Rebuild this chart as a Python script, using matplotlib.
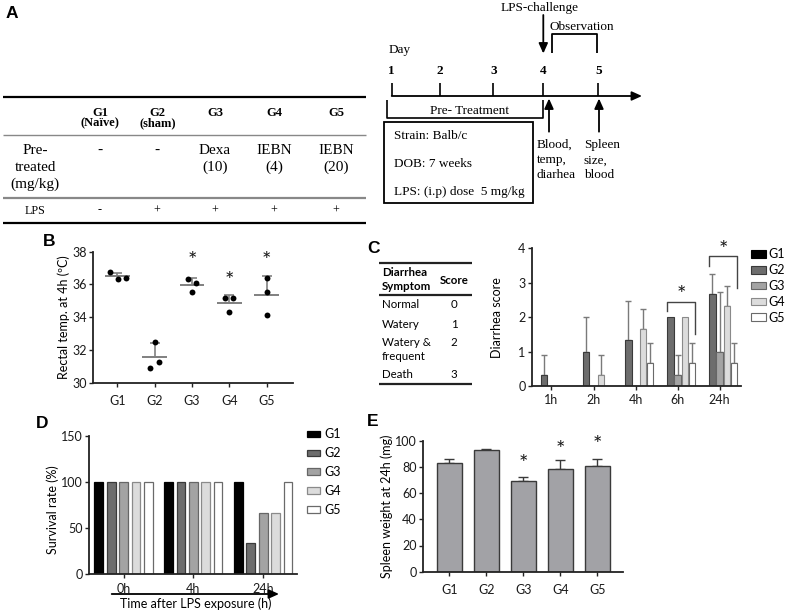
import numpy as np
import matplotlib
matplotlib.use('Agg')
import matplotlib.pyplot as plt
import matplotlib.transforms as mtransforms
from matplotlib.lines import Line2D
from matplotlib.patches import FancyArrowPatch, Rectangle, ArrowStyle

# ---------------- data ----------------
groups = ['G1', 'G2', 'G3', 'G4', 'G5']

# Panel A - table
group_notes = ['(Naïve)', '(sham)', '', '', '']
pretreat_agent = ['-', '-', 'Dexa', 'IEBN', 'IEBN']
pretreat_dose = ['', '', '(10)', '(4)', '(20)']
lps_given = ['-', '+', '+', '+', '+']

# Panel A - timeline
days = ['1', '2', '3', '4', '5']
study_info = ['Strain: Balb/c', 'DOB: 7 weeks', 'LPS: (i.p) dose  5 mg/kg']
sampling_day4 = ['Blood,', 'temp,', 'diarhea']
sampling_day5 = ['Spleen', 'size,', 'blood']

# Panel B - rectal temperature (individual mice)
temp_g1 = [36.73, 36.33, 36.41]
temp_g2 = [32.50, 31.28, 30.87]
temp_g3 = [36.33, 36.10, 35.51]
temp_g4 = [35.15, 35.15, 34.29]
temp_g5 = [36.41, 35.51, 34.13]
temp_jitter = [[-0.20, 0.03, 0.23], [0.0, 0.11, -0.11], [-0.11, 0.10, 0.0],
               [-0.11, 0.11, 0.0], [0.0, 0.0, 0.0]]
temp_star_groups = [2, 3, 4]
temp_star_y = [37.45, 36.23, 37.45]

# Panel C - diarrhea score
symptoms = ['Normal', 'Watery', 'Watery &\nfrequent', 'Death']
symptom_scores = ['0', '1', '2', '3']
diarrhea_times = ['1h', '2h', '4h', '6h', '24h']
diar_g1 = [0, 0, 0, 0, 0]
diar_g2 = [0.33, 1.00, 1.33, 2.00, 2.67]
diar_g3 = [0, 0, 0, 0.33, 1.00]
diar_g4 = [0, 0.33, 1.67, 2.00, 2.33]
diar_g5 = [0, 0, 0.67, 0.67, 0.67]
diar_sd_g1 = [0, 0, 0, 0, 0]
diar_sd_g2 = [0.58, 1.00, 1.15, 0, 0.58]
diar_sd_g3 = [0, 0, 0, 0.58, 1.73]
diar_sd_g4 = [0, 0.58, 0.58, 0, 0.58]
diar_sd_g5 = [0, 0, 0.58, 0.58, 0.58]
diar_brackets_time = [3, 4]
diar_brackets_y = [2.43, 3.79]
diar_brackets_left_end = [2.17, 3.50]
diar_brackets_right_end = [1.50, 2.84]
diar_star_y = [2.63, 3.94]

# Panel D - survival
survival_times = ['0h', '4h', '24h']
surv_g1 = [100, 100, 100]
surv_g2 = [100, 100, 33.3]
surv_g3 = [100, 100, 66.7]
surv_g4 = [100, 100, 66.7]
surv_g5 = [100, 100, 100]

# Panel E - spleen weight
spleen_mean = [82.7, 92.6, 69.0, 78.4, 80.4]
spleen_sd = [3.1, 1.0, 3.3, 6.8, 5.6]
spleen_star_groups = [2, 3, 4]
spleen_star_y = [82.0, 92.7, 96.9]

# ---------------- figure ----------------
W, H = 787, 613
SANS = ['Lato', 'DejaVu Sans']
SERIF = ['Liberation Serif', 'DejaVu Serif']
plt.rcParams['font.family'] = SANS
plt.rcParams['font.size'] = 9
FS = 9
fig = plt.figure(figsize=(W / 100, H / 100), dpi=100)
T = mtransforms.Affine2D().scale(1 / W, -1 / H).translate(0, 1) + fig.transFigure

fills = ['#000000', '#6d6d6d', '#a3a3a3', '#dcdcdc', '#ffffff']
edges = ['#000000', '#3a3a3a', '#666666', '#8a8a8a', '#6a6a6a']
AX = '#222222'


def px_axes(l, t, r, b):
    return fig.add_axes([l / W, 1 - b / H, (r - l) / W, (b - t) / H])


def style(ax, xpad):
    for s in ['top', 'right']:
        ax.spines[s].set_visible(False)
    for s in ['left', 'bottom']:
        ax.spines[s].set_linewidth(1.3)
        ax.spines[s].set_color(AX)
    ax.tick_params(direction='out', length=3, width=1, color=AX, labelsize=FS,
                   labelcolor='#1a1a1a')
    ax.tick_params(axis='y', pad=1.5)
    ax.tick_params(axis='x', pad=xpad)


def line(xs, ys, color='black', lw=1.2):
    fig.add_artist(Line2D(xs, ys, transform=T, color=color, lw=lw, solid_capstyle='butt'))


def arrow(p0, p1, hl=0.6, hw=0.26, lw=1.3):
    st = ArrowStyle('-|>', head_length=hl, head_width=hw)
    fig.add_artist(FancyArrowPatch(p0, p1, transform=T, arrowstyle=st, mutation_scale=10,
                                   color='black', lw=lw, shrinkA=0, shrinkB=0))


def ftext(x, y, s, **kw):
    kw.setdefault('va', 'center')
    kw.setdefault('ha', 'center')
    fig.text(x, y, s, transform=T, **kw)


# panel letters
for lab, (x, y) in zip('ABCDE', [(11.7, 14), (49.3, 242), (373.3, 248.3), (41.7, 423.3), (373, 422)]):
    ftext(x, y, lab, family=['Liberation Sans', 'DejaVu Sans'], fontsize=12.5, weight='bold')

# ---------- Panel A: table ----------
col_x = [100, 157.3, 215, 274, 336]
line([2.7, 366], [97.3, 97.3], 'black', 1.6)
line([2.7, 366], [135, 135], '#888888', 1.0)
line([2.7, 366], [197.7, 197.7], '#888888', 1.6)
line([2.7, 366], [222.7, 222.7], 'black', 1.6)
for i, g in enumerate(groups):
    x = col_x[i]
    ftext(x, 112.7, g, family=SERIF, fontsize=9, weight='bold')
    if group_notes[i]:
        ftext(x, 123.3, group_notes[i], family=SERIF, fontsize=9, weight='bold')
    ftext(x, 150, pretreat_agent[i], family=SERIF, fontsize=11)
    if pretreat_dose[i]:
        ftext(x, 167.3, pretreat_dose[i], family=SERIF, fontsize=11)
    ftext(x, 210.5, lps_given[i], family=SERIF, fontsize=8.7)
for yy, s in zip([150, 167.3, 184.3], ['Pre-', 'treated', '(mg/kg)']):
    ftext(35, yy, s, family=SERIF, fontsize=11)
ftext(35, 210.5, 'LPS', family=SERIF, fontsize=8.7)

# ---------- Panel A: timeline ----------
TF = 9.5
day_x = [391.7, 440, 493.3, 543.3, 598.3]
ftext(539.3, 8.3, 'LPS-challenge', family=SERIF, fontsize=TF)
arrow((543.3, 15), (543.3, 53.5), hl=0.6, hw=0.27)
ftext(581.7, 27.5, 'Observation', family=SERIF, fontsize=TF)
line([551.7, 551.7, 597.3, 597.3], [53.3, 34, 34, 53.3], 'black', 1.3)
ftext(388.3, 50, 'Day', family=SERIF, fontsize=TF, ha='left')
for d, x in zip(days, day_x):
    ftext(x, 70.7, d, family=SERIF, fontsize=TF, weight='bold')
    line([x, x], [83, 96], 'black', 1.2)
arrow((391.7, 96), (642, 96), hl=0.6, hw=0.27)
line([387.3, 387.3, 543.3, 543.3], [100, 118.3, 118.3, 100], 'black', 1.2)
ftext(469.3, 111.5, 'Pre- Treatment', family=SERIF, fontsize=TF)
fig.add_artist(Rectangle((384, 121.7), 149.3, 81.6, transform=T, fill=False, lw=1.3, ec='black'))
for yy, s in zip([136, 164, 192.5], study_info):
    ftext(394, yy, s, family=SERIF, fontsize=TF, ha='left')
arrow((549, 131.7), (549, 98.5), hl=0.6, hw=0.27)
arrow((599, 131.7), (599, 98.5), hl=0.6, hw=0.27)
for yy, s in zip([145, 160.5, 175.5], sampling_day4):
    ftext(536.5, yy, s, family=SERIF, fontsize=TF, ha='left')
for yy, s in zip([145, 160.5, 175.5], sampling_day5):
    ftext(584, yy, s, family=SERIF, fontsize=TF, ha='left')

# ---------- Panel B ----------
axB = px_axes(93.3, 251.7, 293.3, 382.7)
temps = [temp_g1, temp_g2, temp_g3, temp_g4, temp_g5]
for i, vals in enumerate(temps):
    v = np.array(vals)
    m, sd = v.mean(), v.std(ddof=1)
    axB.hlines(m, i - 0.33, i + 0.33, color='#808080', lw=1.4, zorder=2)
    axB.errorbar([i], [m], yerr=[[0], [sd]], fmt='none', ecolor='#808080', elinewidth=1.2,
                 capsize=3.5, capthick=1.2, zorder=2)
    axB.scatter(i + np.array(temp_jitter[i]), v, s=18, color='black', zorder=3, linewidths=0)
for g, y in zip(temp_star_groups, temp_star_y):
    axB.text(g, y, '*', ha='center', va='center', fontsize=16, color='#1a1a1a')
axB.set_xlim(-0.64, 4.71)
axB.set_ylim(30, 38)
axB.set_yticks([30, 32, 34, 36, 38])
axB.set_xticks(range(5))
axB.set_xticklabels(groups)
style(axB, 5.5)
axB.set_ylabel('Rectal temp. at 4h (ºC)', fontsize=FS, va='center')
axB.yaxis.set_label_coords(-0.15, 0.5)

# ---------- Panel C table ----------
CT = 8.3
line([378.5, 472], [263.3, 263.3], '#222222', 1.6)
line([378.5, 472], [295, 295], '#222222', 1.6)
line([378.5, 472], [384, 384], '#222222', 1.6)
ftext(382, 272.7, 'Diarrhea', ha='left', fontsize=CT, weight='bold')
ftext(382, 286, 'Symptom', ha='left', fontsize=CT, weight='bold')
ftext(454.5, 280, 'Score', fontsize=CT, weight='bold')
row_y = [305, 324.7, 342.8, 375]
for s, sc, yy in zip(symptoms, symptom_scores, row_y):
    for k, part in enumerate(s.split('\n')):
        ftext(382, yy + 14 * k, part, ha='left', fontsize=CT)
    ftext(454, yy, sc, fontsize=CT)

# ---------- Panel C chart ----------
axC = px_axes(531.7, 248.3, 740.7, 386)
xc = np.arange(len(diarrhea_times))
offs = (np.arange(5) - 2) * 0.172
dm = [diar_g1, diar_g2, diar_g3, diar_g4, diar_g5]
ds = [diar_sd_g1, diar_sd_g2, diar_sd_g3, diar_sd_g4, diar_sd_g5]
handlesC = []
for j in range(5):
    h = axC.bar(xc + offs[j], dm[j], width=0.152, color=fills[j], edgecolor=edges[j], lw=0.8,
                label=groups[j], zorder=2)
    handlesC.append(h)
    m = np.array(dm[j], float)
    s = np.array(ds[j], float)
    mask = s > 0
    if mask.any():
        axC.errorbar((xc + offs[j])[mask], m[mask], yerr=[np.zeros(mask.sum()), s[mask]], fmt='none',
                     ecolor='#7a7a7a', elinewidth=1.0, capsize=2.2, capthick=1.0, zorder=1)
for t, yb, yl, yr, ys in zip(diar_brackets_time, diar_brackets_y, diar_brackets_left_end,
                             diar_brackets_right_end, diar_star_y):
    x0 = t + offs[1] - 0.076
    x1 = t + offs[4] + 0.076
    axC.plot([x0, x0, x1, x1], [yl, yb, yb, yr], color='#444444', lw=1.0, clip_on=False)
    axC.text((x0 + x1) / 2, ys, '*', ha='center', va='center', fontsize=16, color='#1a1a1a',
             clip_on=False)
axC.set_xlim(-0.47, 4.5)
axC.set_ylim(0, 4)
axC.set_yticks([0, 1, 2, 3, 4])
axC.set_xticks(xc)
axC.set_xticklabels(diarrhea_times)
style(axC, 3)
axC.set_ylabel('Diarrhea score', fontsize=FS, va='center')
axC.yaxis.set_label_coords(-0.167, 0.5)
axC.legend(handles=handlesC, loc='upper left', bbox_to_anchor=(750.7, 248.5), bbox_transform=T,
           frameon=False, borderpad=0, borderaxespad=0, handlelength=1.2, handleheight=0.55,
           handletextpad=0.2, labelspacing=0.3, fontsize=FS)

# ---------- Panel D ----------
axD = px_axes(89.3, 436, 296.7, 574)
xd = np.arange(len(survival_times))
offsD = (np.arange(5) - 2) * 0.177
sv = [surv_g1, surv_g2, surv_g3, surv_g4, surv_g5]
handlesD = []
for j in range(5):
    h = axD.bar(xd + offsD[j], sv[j], width=0.125, color=fills[j], edgecolor=edges[j], lw=0.9,
                label=groups[j], zorder=2)
    handlesD.append(h)
axD.set_xlim(-0.49, 2.48)
axD.set_ylim(0, 150)
axD.set_yticks([0, 50, 100, 150])
axD.set_xticks(xd)
axD.set_xticklabels(survival_times)
style(axD, 3.5)
axD.set_ylabel('Survival rate (%)', fontsize=FS, va='center')
axD.yaxis.set_label_coords(-0.174, 0.47)
axD.legend(handles=handlesD, loc='upper left', bbox_to_anchor=(306.7, 428.5), bbox_transform=T,
           frameon=False, borderpad=0, borderaxespad=0, handlelength=1.1, handleheight=0.45,
           handletextpad=0.3, labelspacing=0.55, fontsize=FS)
arrow((111.7, 594), (279, 594), hl=0.6, hw=0.27, lw=1.3)
ftext(195.7, 604, 'Time after LPS exposure (h)', fontsize=FS)

# ---------- Panel E ----------
axE = px_axes(422.7, 440.7, 622.7, 571.7)
xe = np.arange(len(groups))
axE.bar(xe, spleen_mean, width=0.68, color='#a2a2a6', edgecolor='#3a3a3a', lw=1.0, zorder=2)
axE.errorbar(xe, spleen_mean, yerr=[np.zeros(len(xe)), spleen_sd], fmt='none', ecolor='#3a3a3a',
             elinewidth=1.0, capsize=3.8, capthick=1.0, zorder=1)
for g, y in zip(spleen_star_groups, spleen_star_y):
    axE.text(g, y, '*', ha='center', va='center', fontsize=16, color='#1a1a1a', clip_on=False)
axE.set_xlim(-0.72, 4.69)
axE.set_ylim(0, 100)
axE.set_yticks([0, 20, 40, 60, 80, 100])
axE.set_xticks(xe)
axE.set_xticklabels(groups)
style(axE, 5.5)
axE.set_ylabel('Spleen weight at 24h (mg)', fontsize=FS, va='center')
axE.yaxis.set_label_coords(-0.18, 0.5)

fig.savefig('out.png', dpi=100)
